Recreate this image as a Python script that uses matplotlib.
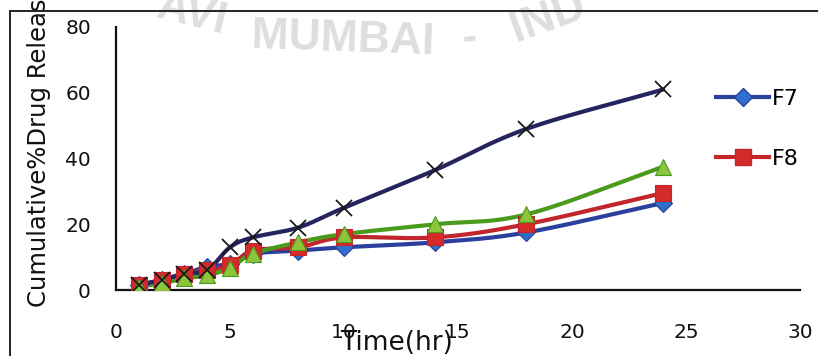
import numpy as np
import matplotlib
matplotlib.use("Agg")
import matplotlib.pyplot as plt
from matplotlib.lines import Line2D
from matplotlib.patches import Rectangle

plt.rcParams['font.family'] = ['DejaVu Sans']

# Sampling times (hr) and cumulative % drug release per formulation
time_hr = [1, 2, 3, 4, 5, 6, 8, 10, 14, 18, 24]
f7 = [1.5, 3.0, 5.0, 7.0, 8.0, 11.0, 12.0, 13.0, 14.5, 17.5, 26.5]
f8 = [1.5, 3.0, 5.0, 6.0, 7.5, 12.0, 13.0, 16.0, 16.0, 20.0, 29.5]
f9 = [1.0, 2.0, 3.5, 4.5, 6.7, 11.0, 14.5, 17.0, 20.0, 23.0, 37.5]
f10 = [1.5, 3.0, 5.0, 6.0, 13.0, 16.0, 19.0, 25.0, 36.5, 49.0, 61.0]

x_ticks = [0, 5, 10, 15, 20, 25, 30]
y_ticks = [0, 20, 40, 60, 80]


def smooth(x, y, n=30):
    """Catmull-Rom curve through the points, like a spreadsheet 'smoothed line'."""
    x = np.asarray(x, float)
    y = np.asarray(y, float)
    px = np.concatenate([[2 * x[0] - x[1]], x, [2 * x[-1] - x[-2]]])
    py = np.concatenate([[2 * y[0] - y[1]], y, [2 * y[-1] - y[-2]]])
    xs, ys = [], []
    t = np.linspace(0, 1, n)
    for i in range(1, len(px) - 2):
        for p, out in ((px, xs), (py, ys)):
            p0, p1, p2, p3 = p[i - 1], p[i], p[i + 1], p[i + 2]
            out.append(0.5 * ((2 * p1) + (-p0 + p2) * t
                              + (2 * p0 - 5 * p1 + 4 * p2 - p3) * t ** 2
                              + (-p0 + 3 * p1 - 3 * p2 + p3) * t ** 3))
    return np.concatenate(xs), np.concatenate(ys)


W, H = 818, 356
fig = plt.figure(figsize=(W / 100, H / 100), dpi=100)
fig.patch.set_facecolor('white')

# faint watermark along an arc
wm = dict(color='#dedede', fontsize=32, fontweight='bold', ha='center', va='center',
          zorder=0, family=['Liberation Sans'])
fig.text(192 / W, 1 - 14 / H, 'AVI', rotation=-14, **wm)
fig.text(343 / W, 1 - 40 / H, 'MUMBAI', rotation=-2, **wm)
fig.text(469 / W, 1 - 38 / H, '-', rotation=8, **wm)
fig.text(548 / W, 1 - 18 / H, 'IND', rotation=20, **wm)

ax = fig.add_axes([116 / W, 1 - 290 / H, (800 - 116) / W, (290 - 27) / H])
ax.set_facecolor('none')

series = [
    ('F7', f7, '#2b3f9c', 'D', '#2f6fcc', 9),
    ('F8', f8, '#c0262c', 's', '#d42a2a', 11),
    ('F9', f9, '#4a9a1c', '^', '#8cc43c', 12),
    ('F10', f10, '#24245f', 'x', '#1a1a1a', 12),
]
handles = []
for name, vals, lc, mk, mc, ms in series:
    sx, sy = smooth(time_hr, vals)
    ax.plot(sx, sy, color=lc, lw=3, solid_capstyle='round', zorder=2)
    if mk == 'x':
        ax.plot(time_hr, vals, ls='none', marker='x', ms=ms, mew=1.3,
                color=mc, zorder=3)
    else:
        ax.plot(time_hr, vals, ls='none', marker=mk, ms=ms, mfc=mc,
                mec=lc, mew=0.8, zorder=3)
    if name in ('F7', 'F8'):
        handles.append(Line2D([], [], color=lc, lw=3, marker=mk, ms=ms,
                              mfc=mc, mec=lc, label=name))

ax.set_xlim(0, 30)
ax.set_ylim(0, 80)
ax.set_xticks(x_ticks)
ax.set_yticks(y_ticks)
ax.tick_params(length=0, labelsize=14.5, colors='#111111')
ax.tick_params(axis='x', pad=24)
ax.tick_params(axis='y', pad=18)
for s in ('top', 'right'):
    ax.spines[s].set_visible(False)
for s in ('left', 'bottom'):
    ax.spines[s].set_linewidth(1.6)
    ax.spines[s].set_color('#111111')

fig.text(397 / W, 1 - 343 / H, 'Time(hr)', ha='center', va='center',
         fontsize=19, color='#111111')
fig.text(39 / W, 1 - 307 / H, 'Cumulative%Drug Release', rotation=90,
         ha='center', va='bottom', fontsize=17.5, color='#111111')

fig.legend(handles=handles, loc='upper left', bbox_to_anchor=(716 / W, 1 - 89 / H),
           frameon=False, handlelength=2.4, labelspacing=1.8, fontsize=16,
           handletextpad=0.1, borderpad=0, borderaxespad=0)

# outer frame
fig.patches.append(Rectangle((10 / W, -0.1), 1.2, 1 - 11 / H + 0.1,
                             transform=fig.transFigure, fill=False,
                             edgecolor='#222222', lw=1.4, zorder=5))

fig.savefig('out.png', dpi=100)
